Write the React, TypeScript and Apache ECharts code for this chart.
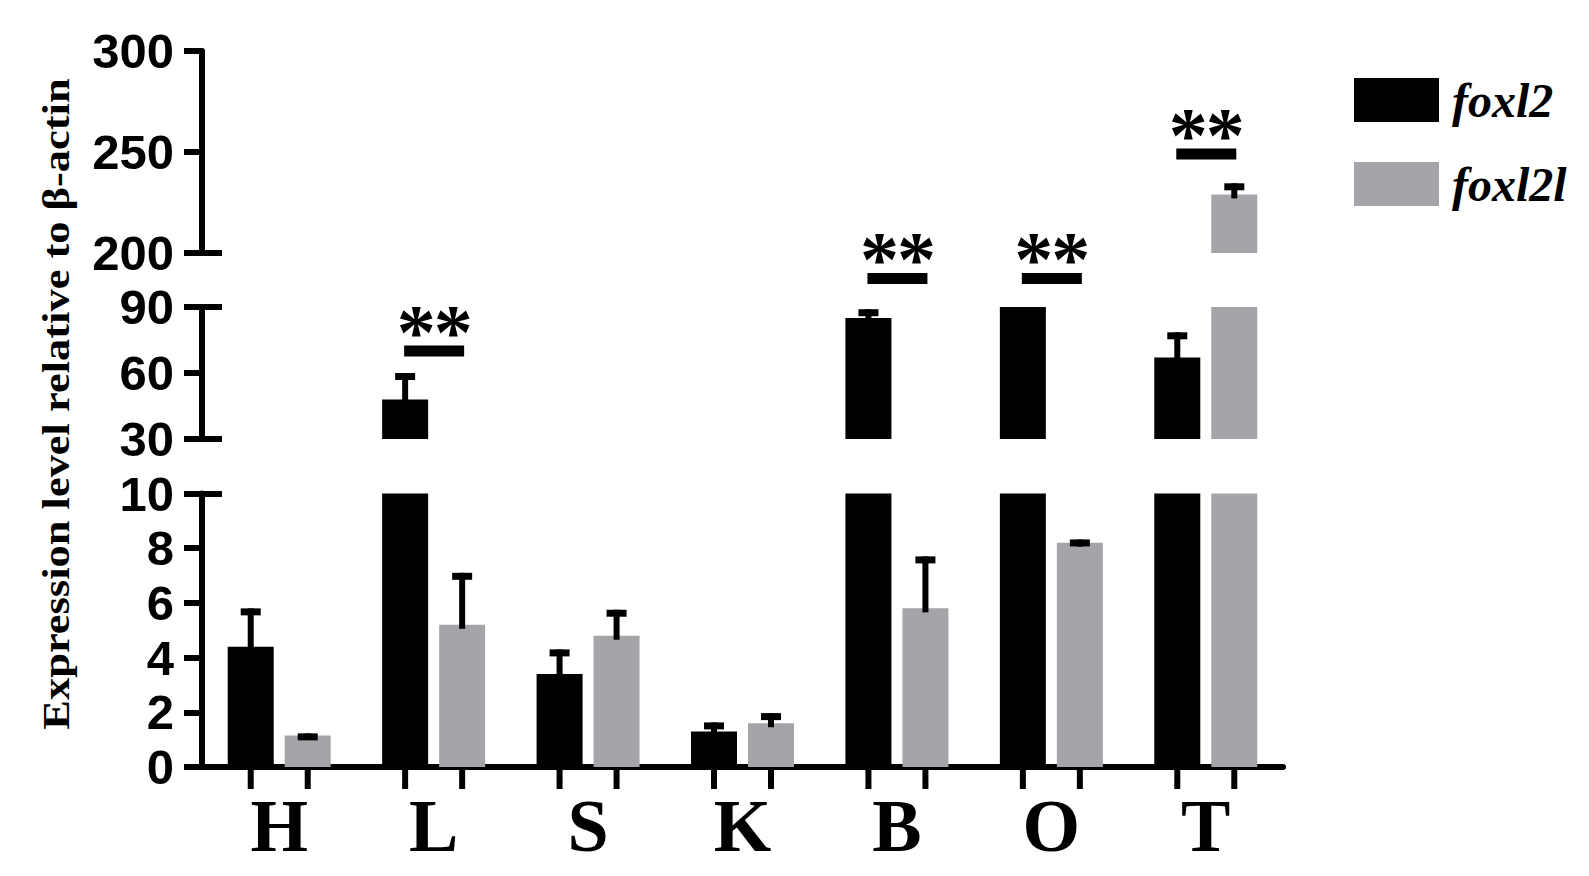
import React, { useEffect, useRef } from 'react';
import * as echarts from 'echarts';

// Tissues and relative expression (mean and SD) of the two genes
const categories = ['H', 'L', 'S', 'K', 'B', 'O', 'T'];
const foxl2 = [4.4, 48, 3.4, 1.3, 85, 120, 67];
const foxl2Err = [1.4, 12, 0.9, 0.33, 4, 0, 11.5];
const foxl2l = [1.15, 5.2, 4.8, 1.6, 5.8, 8.2, 229];
const foxl2lErr = [0.08, 1.9, 0.95, 0.37, 1.9, 0.12, 5.5];

// Significance brackets: tissue, height of the bar (data units), label
const sigCategories = ['L', 'B', 'O', 'T'];
const sigLevels = [70, 103, 103, 249];
const sigLabels = ['**', '**', '**', '**'];

// Broken y axis: three segments, top to bottom
const segMin = [200, 30, 0];
const segMax = [300, 90, 10];
const segStep = [50, 30, 2];
const segBreakTicks = [[200], [30, 90], [10]];

const GRID_LEFT = 202;
const GRID_RIGHT = 306;
const GRID_BOXES = [
  { top: 51, height: 202 },
  { top: 307, height: 132 },
  { top: 493.5, height: 273.5 },
];

const BAR_W = 46;
const BAR_GAP_PX = 11;
const HALF_PAIR = (BAR_W + BAR_GAP_PX) / 2;
const STAR_SPACING = 37;
const BLACK = '#000000';
const GREY = '#a5a4a9';

function errorBarSeries(g: number, values: number[], errs: number[], offset: number) {
  return {
    type: 'custom',
    xAxisIndex: g,
    yAxisIndex: 2 * g,
    z: 6,
    silent: true,
    data: categories.map((_, i) => [i, values[i], errs[i]]),
    renderItem: (_params: any, api: any) => {
      const i = api.value(0);
      const v = api.value(1);
      const e = api.value(2);
      if (!(v >= segMin[g] && v <= segMax[g]) || !(e > 0)) {
        return { type: 'group', children: [] };
      }
      const base = api.coord([i, v]);
      const top = api.coord([i, v + e]);
      const cx = base[0] + offset;
      return {
        type: 'group',
        children: [
          {
            type: 'rect',
            shape: { x: cx - 3, y: top[1], width: 6, height: base[1] - top[1] + 4 },
            style: { fill: BLACK },
          },
          {
            type: 'rect',
            shape: { x: cx - 10, y: top[1], width: 20, height: 7 },
            style: { fill: BLACK },
          },
        ],
      };
    },
  };
}

function sigSeries(g: number) {
  const idx: number[] = [];
  sigLevels.forEach((lvl, k) => {
    const inTop = lvl >= segMin[0];
    if ((g === 0 && inTop) || (g === 1 && !inTop)) idx.push(k);
  });
  return {
    type: 'custom',
    xAxisIndex: g,
    yAxisIndex: 2 * g,
    z: 7,
    silent: true,
    clip: false,
    data: idx.map((k) => [categories.indexOf(sigCategories[k]), sigLevels[k], k]),
    renderItem: (_params: any, api: any) => {
      const c = api.coord([api.value(0), api.value(1)]);
      const chars = sigLabels[api.value(2)].split('');
      const first = c[0] + 1 - ((chars.length - 1) * STAR_SPACING) / 2;
      const stars = chars.map((ch, n) => ({
        type: 'text',
        x: first + n * STAR_SPACING,
        y: c[1] - 20,
        style: {
          text: ch,
          fontSize: 78,
          fontWeight: 'bold',
          fontFamily: 'Liberation Serif',
          align: 'center',
          verticalAlign: 'middle',
          textAlign: 'center',
          textVerticalAlign: 'middle',
          fill: BLACK,
        },
      }));
      return {
        type: 'group',
        children: [
          {
            type: 'rect',
            shape: { x: c[0] - HALF_PAIR - 1, y: c[1] - 5.5, width: 2 * HALF_PAIR + 3, height: 11 },
            style: { fill: BLACK },
          },
          ...stars,
        ],
      };
    },
  };
}

// Short ticks under the category axis, one at the centre of every bar
function barTickSeries() {
  return {
    type: 'custom',
    xAxisIndex: 2,
    yAxisIndex: 4,
    z: 8,
    silent: true,
    clip: false,
    data: categories.map((_, i) => [i, 0]),
    renderItem: (_params: any, api: any) => {
      const c = api.coord([api.value(0), 0]);
      return {
        type: 'group',
        children: [-HALF_PAIR, HALF_PAIR].map((dx) => ({
          type: 'rect',
          shape: { x: c[0] + dx - 3, y: c[1], width: 6, height: 22 },
          style: { fill: BLACK },
        })),
      };
    },
  };
}

export default function App() {
  const ref = useRef<HTMLDivElement>(null);

  useEffect(() => {
    if (!ref.current) return;
    const chart = echarts.init(ref.current, undefined, { renderer: 'svg' });

    const grid = GRID_BOXES.map((b) => ({
      left: GRID_LEFT,
      right: GRID_RIGHT,
      top: b.top,
      height: b.height,
      containLabel: false,
    }));

    const xAxis = GRID_BOXES.map((_, g) => ({
      type: 'category',
      gridIndex: g,
      data: categories,
      show: g === 2,
      axisLine: { show: g === 2, lineStyle: { color: BLACK, width: 6 } },
      axisTick: { show: false },
      axisLabel: {
        show: g === 2,
        fontSize: 74,
        fontWeight: 'bold',
        fontFamily: 'Liberation Serif',
        color: BLACK,
        margin: 22,
      },
      splitLine: { show: false },
    }));

    const yAxis: any[] = [];
    GRID_BOXES.forEach((_, g) => {
      yAxis.push({
        type: 'value',
        gridIndex: g,
        position: 'left',
        min: segMin[g],
        max: segMax[g],
        interval: segStep[g],
        axisLine: { show: true, lineStyle: { color: BLACK, width: 6 } },
        axisTick: { show: true, length: 18, lineStyle: { color: BLACK, width: 6 } },
        axisLabel: {
          fontSize: 49,
          fontWeight: 'bold',
          fontFamily: 'Liberation Sans',
          color: BLACK,
          margin: 28,
        },
        splitLine: { show: false },
      });
      // inward ticks marking the ends of each axis segment
      yAxis.push({
        type: 'value',
        gridIndex: g,
        position: 'left',
        min: segMin[g],
        max: segMax[g],
        interval: segStep[g],
        axisLine: { show: false },
        axisTick: {
          show: true,
          inside: true,
          length: 20,
          customValues: segBreakTicks[g],
          lineStyle: { color: BLACK, width: 6 },
        },
        axisLabel: { show: false },
        splitLine: { show: false },
      });
    });

    const series: any[] = [];
    GRID_BOXES.forEach((_, g) => {
      series.push({
        name: 'foxl2',
        type: 'bar',
        xAxisIndex: g,
        yAxisIndex: 2 * g,
        data: foxl2,
        barWidth: BAR_W,
        barGap: `${(BAR_GAP_PX / BAR_W) * 100}%`,
        itemStyle: { color: BLACK },
        clip: true,
        silent: true,
      });
      series.push({
        name: 'foxl2l',
        type: 'bar',
        xAxisIndex: g,
        yAxisIndex: 2 * g,
        data: foxl2l,
        barWidth: BAR_W,
        barGap: `${(BAR_GAP_PX / BAR_W) * 100}%`,
        itemStyle: { color: GREY },
        clip: true,
        silent: true,
      });
      series.push(errorBarSeries(g, foxl2, foxl2Err, -HALF_PAIR));
      series.push(errorBarSeries(g, foxl2l, foxl2lErr, HALF_PAIR));
    });
    series.push(sigSeries(0));
    series.push(sigSeries(1));
    series.push(barTickSeries());

    chart.setOption({
      animation: false,
      backgroundColor: '#ffffff',
      grid,
      xAxis,
      yAxis,
      legend: {
        orient: 'vertical',
        left: 1349,
        top: 71,
        itemWidth: 85,
        itemHeight: 44,
        itemGap: 36,
        icon: 'rect',
        selectedMode: false,
        data: ['foxl2', 'foxl2l'],
        textStyle: {
          fontSize: 48,
          fontStyle: 'italic',
          fontWeight: 'bold',
          fontFamily: 'Liberation Serif',
          color: BLACK,
          padding: [0, 0, 0, 8],
        },
      },
      graphic: [
        {
          type: 'text',
          x: 56,
          y: 404,
          rotation: Math.PI / 2,
          scaleX: 1.17,
          style: {
            text: 'Expression level relative to β-actin',
            fontSize: 38,
            fontWeight: 'bold',
            fontFamily: 'Liberation Serif',
            align: 'center',
            verticalAlign: 'middle',
            textAlign: 'center',
            textVerticalAlign: 'middle',
            fill: BLACK,
          },
        },
      ],
      series,
    });

    return () => chart.dispose();
  }, []);

  return (
    <div
      ref={ref}
      style={{ position: 'absolute', left: 0, top: 0, width: 1589, height: 876, background: '#fff' }}
    />
  );
}
